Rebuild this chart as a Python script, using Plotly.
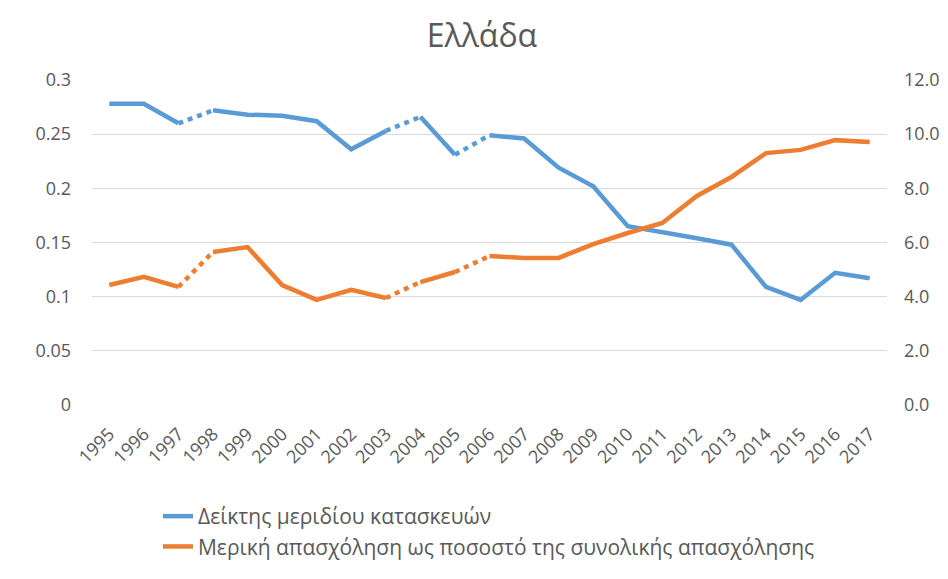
import plotly.graph_objects as go

years = [str(y) for y in range(1995, 2018)]

# Δείκτης μεριδίου κατασκευών (left axis)
construction_share = [
    0.278, 0.278, 0.260, 0.272, 0.268, 0.267, 0.262, 0.236, 0.253, 0.266,
    0.231, 0.249, 0.246, 0.219, 0.202, 0.165, 0.160, 0.154, 0.148, 0.109,
    0.097, 0.122, 0.117,
]

# Μερική απασχόληση ως ποσοστό της συνολικής απασχόλησης (right axis)
part_time_pct = [
    4.43, 4.73, 4.36, 5.65, 5.83, 4.43, 3.88, 4.25, 3.95, 4.54,
    4.91, 5.50, 5.43, 5.43, 5.94, 6.35, 6.72, 7.72, 8.42, 9.30,
    9.42, 9.78, 9.71,
]

# segments drawn dotted (start year of each estimated gap)
dotted_starts = ["1997", "2003", "2005"]

series = [
    ("Δείκτης μεριδίου κατασκευών", construction_share, "#5B9BD5", "y"),
    ("Μερική απασχόληση ως ποσοστό της συνολικής απασχόλησης", part_time_pct, "#ED7D31", "y2"),
]


def split_runs(xs, ys, breaks):
    """Split a series into solid runs and dotted pairs."""
    solid, dotted = [], []
    cur_x, cur_y = [xs[0]], [ys[0]]
    for i in range(1, len(xs)):
        if xs[i - 1] in breaks:
            solid.append((cur_x, cur_y))
            dotted.append(([xs[i - 1], xs[i]], [ys[i - 1], ys[i]]))
            cur_x, cur_y = [xs[i]], [ys[i]]
        else:
            cur_x.append(xs[i])
            cur_y.append(ys[i])
    solid.append((cur_x, cur_y))
    return solid, dotted


fig = go.Figure()

for name, values, color, axis in series:
    solid, dotted = split_runs(years, values, dotted_starts)
    for k, (sx, sy) in enumerate(solid):
        fig.add_trace(go.Scatter(
            x=sx, y=sy, yaxis=axis, mode="lines", name=name,
            legendgroup=name, showlegend=(k == 0),
            line=dict(color=color, width=4.5),
            hoverinfo="skip",
        ))
    for dx, dy in dotted:
        fig.add_trace(go.Scatter(
            x=dx, y=dy, yaxis=axis, mode="lines", name=name,
            legendgroup=name, showlegend=False,
            line=dict(color=color, width=4.5, dash="5px,5px"),
            hoverinfo="skip",
        ))

grey = "#595959"

fig.update_layout(
    width=948,
    height=579,
    paper_bgcolor="white",
    plot_bgcolor="white",
    font=dict(family="Open Sans, Liberation Sans, sans-serif", color=grey, size=18),
    title=dict(text="Ελλάδα", x=0.5, xanchor="center", y=0.972, yanchor="top",
               font=dict(size=32, color=grey)),
    margin=dict(l=84, r=69, t=72, b=182),
    showlegend=True,
    legend=dict(
        x=0.083, y=-0.28, xanchor="left", yanchor="top",
        font=dict(size=21, color=grey),
        tracegroupgap=0, itemwidth=30,
        bgcolor="rgba(0,0,0,0)",
    ),
    xaxis=dict(
        type="category",
        range=[-0.5, len(years) - 0.5],
        tickangle=-45,
        showgrid=False,
        showline=False,
        ticks="",
        tickfont=dict(size=18, color=grey),
        ticklabelstandoff=14,
    ),
    yaxis=dict(
        range=[0, 0.3],
        dtick=0.05,
        showgrid=True,
        gridcolor="#D9D9D9",
        gridwidth=1,
        zeroline=False,
        showline=False,
        tickfont=dict(size=18, color=grey),
        ticklabelstandoff=20,
    ),
    yaxis2=dict(
        range=[0, 12],
        dtick=2,
        tickformat=".1f",
        overlaying="y",
        side="right",
        showgrid=False,
        zeroline=False,
        showline=False,
        tickfont=dict(size=18, color=grey),
        ticklabelstandoff=16,
    ),
)

fig.write_html("out.html")
